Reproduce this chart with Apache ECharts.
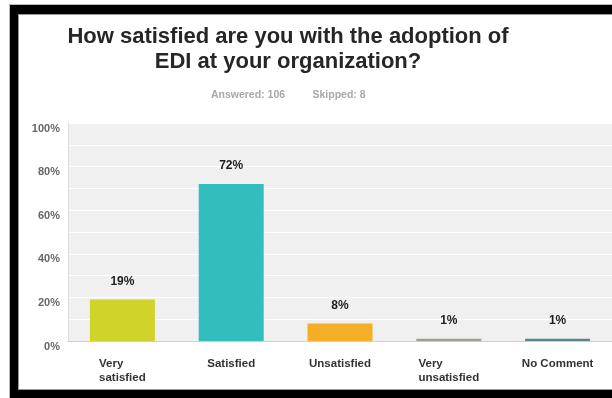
<!DOCTYPE html>
<html>
<head>
<meta charset="utf-8">
<script src="https://cdn.jsdelivr.net/npm/echarts@6/dist/echarts.min.js"></script>
<style>
  html, body { margin: 0; padding: 0; background: #fff; }
  #frame { position: absolute; left: 10px; top: 5px; width: 602px; height: 393px; background: #000; box-shadow: 0 0 0 1px #bbb; }
  #panel { position: absolute; left: 19px; top: 15px; width: 593px; height: 374px; background: #fff; box-shadow: 0 0 0 1px #999; }
  #chart { position: absolute; left: 0; top: 0; width: 612px; height: 398px; }
</style>
</head>
<body>
<div id="frame"></div>
<div id="panel"></div>
<div id="chart"></div>
<script>
// Survey answers and their share of respondents (percent)
const categories = ['Very\nsatisfied', 'Satisfied', 'Unsatisfied', 'Very\nunsatisfied', 'No Comment'];
const percents = [19, 72, 8, 1, 1];
const barColors = ['#cfd32a', '#33bdbf', '#f5ae25', '#9e9e94', '#5a8391'];
const yTickLabels = ['0%', '20%', '40%', '60%', '80%', '100%'];

const titleLines = ['How satisfied are you with the adoption of', 'EDI at your organization?'];
const answeredText = 'Answered: 106';
const skippedText = 'Skipped: 8';

const chart = echarts.init(document.getElementById('chart'), null, { renderer: 'canvas' });

chart.setOption({
  animation: false,
  backgroundColor: 'transparent',
  graphic: [
    {
      type: 'text', x: 288, y: 24,
      style: {
        text: titleLines.join('\n'),
        font: 'bold 22px "Liberation Sans", Arial, sans-serif',
        fill: '#262626', align: 'center', lineHeight: 25
      }
    },
    {
      type: 'text', x: 248, y: 95,
      style: {
        text: answeredText, font: 'bold 10.5px "Liberation Sans", Arial, sans-serif',
        fill: '#a8a8a8', align: 'center', verticalAlign: 'middle'
      }
    },
    {
      type: 'text', x: 339, y: 95,
      style: {
        text: skippedText, font: 'bold 10.5px "Liberation Sans", Arial, sans-serif',
        fill: '#a8a8a8', align: 'center', verticalAlign: 'middle'
      }
    }
  ],
  grid: {
    left: 68, right: 0, top: 123, bottom: 57,
    show: true, backgroundColor: '#f0f0f0', borderWidth: 0
  },
  xAxis: {
    type: 'category',
    data: categories,
    axisTick: { show: false },
    axisLine: { show: true, lineStyle: { color: '#cfcfcf', width: 1 } },
    axisLabel: {
      margin: 16,
      interval: 0,
      color: '#333',
      fontFamily: '"Liberation Sans", Arial, sans-serif',
      fontWeight: 'bold',
      fontSize: 11.5,
      lineHeight: 14,
      verticalAlign: 'top',
      formatter: function (v) {
        return v.split('\n').map(function (s) { return '{l|' + s + '}'; }).join('\n');
      },
      rich: {
        l: {
          align: 'left', color: '#333', fontWeight: 'bold', fontSize: 11.5, lineHeight: 14,
          fontFamily: '"Liberation Sans", Arial, sans-serif'
        }
      }
    }
  },
  yAxis: {
    type: 'value',
    min: 0, max: 100, interval: 10,
    axisLine: { show: true, lineStyle: { color: '#dcdcdc', width: 1 } },
    axisTick: { show: false },
    splitLine: { show: true, lineStyle: { color: '#ffffff', width: 1.2 } },
    axisLabel: {
      margin: 8,
      color: '#666',
      fontFamily: '"Liberation Sans", Arial, sans-serif',
      fontWeight: 'bold',
      fontSize: 11,
      verticalAlign: 'top',
      formatter: function (v) {
        return v % 20 === 0 ? yTickLabels[v / 20] : '';
      }
    }
  },
  series: [{
    type: 'bar',
    barWidth: 65,
    data: percents.map(function (p, i) {
      return { value: p, itemStyle: { color: barColors[i] } };
    }),
    label: {
      show: true,
      position: 'top',
      distance: 12,
      formatter: '{c}%',
      color: '#1e1e1e',
      fontFamily: '"Liberation Sans", Arial, sans-serif',
      fontWeight: 'bold',
      fontSize: 12
    }
  }]
});
</script>
</body>
</html>
